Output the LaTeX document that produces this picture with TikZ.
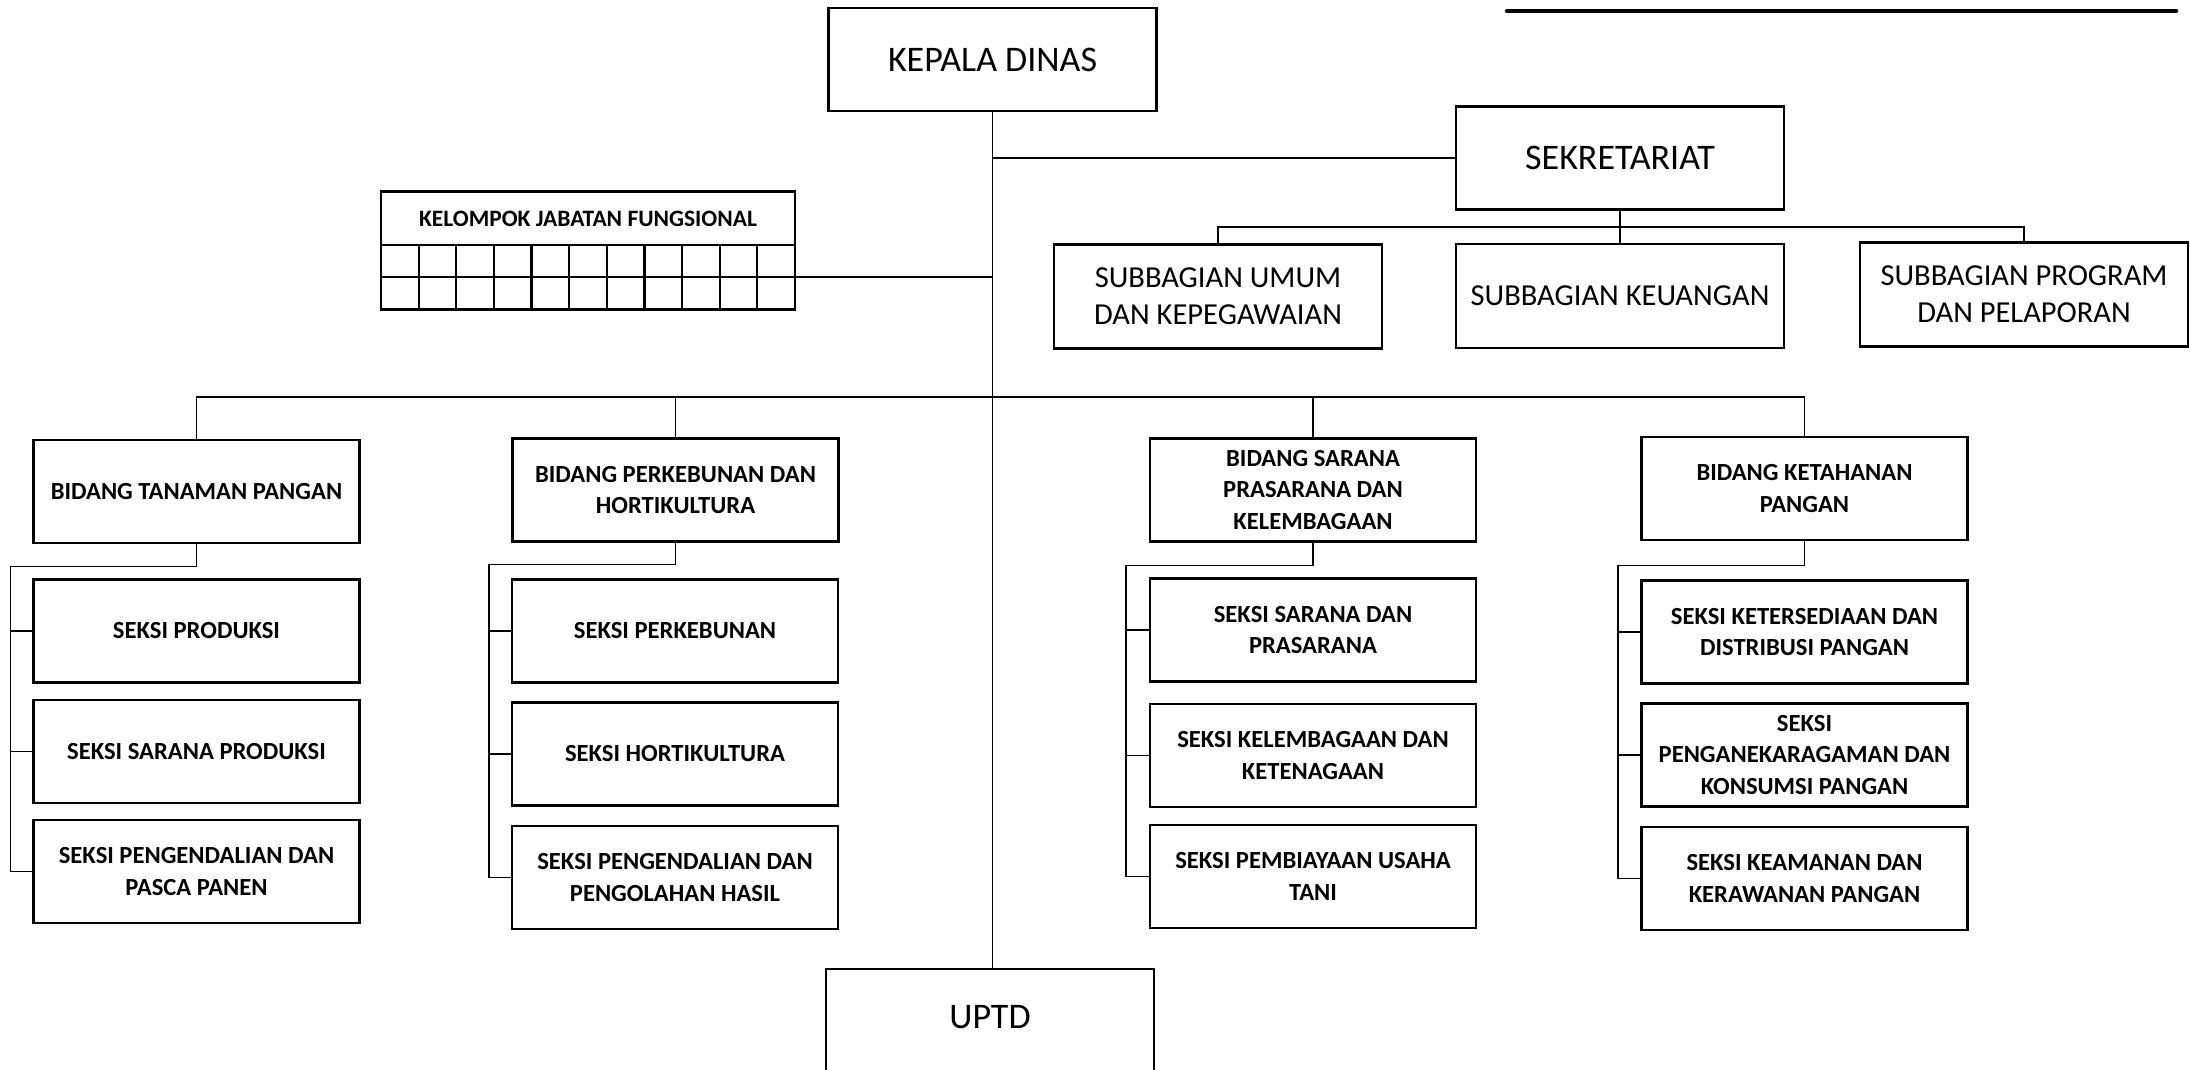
\documentclass[tikz,border=0pt]{standalone}
\usepackage{fontspec}
\setmainfont{Carlito}
\usetikzlibrary{calc}
\tikzset{
  box/.style={draw, line width=2.6pt, inner sep=0pt, align=center,
    font=\bfseries\fontsize{24.6}{31.5}\selectfont, minimum width=326pt, minimum height=103pt},
  bigbox/.style={box, font=\fontsize{36}{44}\selectfont, minimum width=328pt, minimum height=103pt},
  subbox/.style={box, font=\fontsize{30.5}{36.7}\selectfont, minimum width=328pt, minimum height=104pt},
  conn/.style={line width=1.8pt},
  gridline/.style={line width=2.2pt},
}
\begin{document}
\begin{tikzpicture}[x=1pt,y=-1pt]
\useasboundingbox (0,0) rectangle (2190,1069);
\clip (0,0) rectangle (2190,1069);

% decorative line top right
\draw[line width=4.5pt, line cap=round] (1507,11) -- (2176,11);

% top level
\node[bigbox] (kd) at (992.5,59.5) {KEPALA DINAS};
\node[bigbox] (sek) at (1620,158) {SEKRETARIAT};
\node[subbox] (sbu) at (1218,296.5) {SUBBAGIAN UMUM\\DAN KEPEGAWAIAN};
\node[subbox] (sbk) at (1620,296) {SUBBAGIAN KEUANGAN};
\node[subbox] (sbp) at (2024,294.5) {SUBBAGIAN PROGRAM\\DAN PELAPORAN};
\node[bigbox, minimum height=110pt] (uptd) at (990,1024) {};
\node[font=\fontsize{36}{44}\selectfont, inner sep=0pt] (uptdt) at (990,1017) {UPTD};

% kelompok jabatan fungsional
\node[draw, line width=2.2pt, minimum width=414pt, minimum height=118pt, inner sep=0pt] (kjf) at (588,250.5) {};
\node[font=\bfseries\fontsize{23.5}{28}\selectfont, inner sep=0pt] (kjft) at (588,218.5) {KELOMPOK JABATAN FUNGSIONAL};
\draw[gridline] (381,245) -- (795,245);
\draw[gridline] (381,277.3) -- (795,277.3);
\foreach \i in {1,...,10} {
  \draw[gridline] ({381+\i*414/11},245) -- ({381+\i*414/11},309.5);
}
\coordinate (kjfmid) at (795,277.3);

% bidang
\node[box] (b1) at (196.5,491.5) {BIDANG TANAMAN PANGAN};
\node[box] (b2) at (675.5,490) {BIDANG PERKEBUNAN DAN\\HORTIKULTURA};
\node[box] (b3) at (1313,490) {BIDANG SARANA\\PRASARANA DAN\\KELEMBAGAAN};
\node[box] (b4) at (1804.5,488.5) {BIDANG KETAHANAN\\PANGAN};

% seksi column 1
\node[box] (s11) at (196.5,631) {SEKSI PRODUKSI};
\node[box] (s12) at (196.5,751.5) {SEKSI SARANA PRODUKSI};
\node[box] (s13) at (196.5,871.5) {SEKSI PENGENDALIAN DAN\\PASCA PANEN};
% column 2
\node[box] (s21) at (675,631) {SEKSI PERKEBUNAN};
\node[box] (s22) at (675,754) {SEKSI HORTIKULTURA};
\node[box] (s23) at (675,877.5) {SEKSI PENGENDALIAN DAN\\PENGOLAHAN HASIL};
% column 3
\node[box] (s31) at (1313,630) {SEKSI SARANA DAN\\PRASARANA};
\node[box] (s32) at (1313,755.5) {SEKSI KELEMBAGAAN DAN\\KETENAGAAN};
\node[box] (s33) at (1313,876.5) {SEKSI PEMBIAYAAN USAHA\\TANI};
% column 4
\node[box] (s41) at (1804.5,632) {SEKSI KETERSEDIAAN DAN\\DISTRIBUSI PANGAN};
\node[box] (s42) at (1804.5,755) {SEKSI\\PENGANEKARAGAMAN DAN\\KONSUMSI PANGAN};
\node[box] (s43) at (1804.5,878.5) {SEKSI KEAMANAN DAN\\KERAWANAN PANGAN};

% connectors: main spine
\draw[conn] (kd.south) -- (kd.south |- uptd.north);
\draw[conn] (kd.south |- sek.west) -- (sek.west);
\draw[conn] (kjfmid) -- (kd.south |- kjfmid);

% sekretariat children
\coordinate (sbus) at (1620,227);
\draw[conn] (sek.south) -- (sbk.north);
\draw[conn] (sbu.north) |- (sbus) -| (sbp.north);

% bidang bus
\coordinate (bbus) at (992,397);
\draw[conn] (b1.north) |- (bbus) -| (b4.north);
\draw[conn] (b2.north) -- (b2.north |- bbus);
\draw[conn] (b3.north) -- (b3.north |- bbus);

% seksi brackets
\coordinate (j1) at (10.5,566.5);
\coordinate (j2) at (489,564.5);
\coordinate (j3) at (1126,565.5);
\coordinate (j4) at (1618,565.5);
\draw[conn] (b1.south) |- (j1) |- (s13.west);
\draw[conn] (j1 |- s11.west) -- (s11.west);
\draw[conn] (j1 |- s12.west) -- (s12.west);
\draw[conn] (b2.south) |- (j2) |- (s23.west);
\draw[conn] (j2 |- s21.west) -- (s21.west);
\draw[conn] (j2 |- s22.west) -- (s22.west);
\draw[conn] (b3.south) |- (j3) |- (s33.west);
\draw[conn] (j3 |- s31.west) -- (s31.west);
\draw[conn] (j3 |- s32.west) -- (s32.west);
\draw[conn] (b4.south) |- (j4) |- (s43.west);
\draw[conn] (j4 |- s41.west) -- (s41.west);
\draw[conn] (j4 |- s42.west) -- (s42.west);
\end{tikzpicture}
\end{document}
